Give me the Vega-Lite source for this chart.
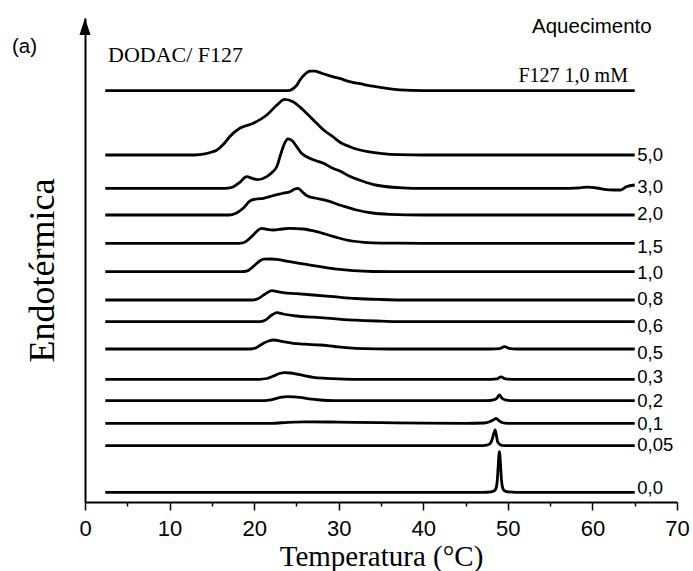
{
  "$schema": "https://vega.github.io/schema/vega-lite/v6.json",
  "autosize": {"type": "none"},
  "padding": {"left": 85, "top": 18, "right": 16, "bottom": 69},
  "width": 592,
  "height": 484,
  "background": "white",
  "config": {"view": {"stroke": null}},
  "datasets": {
    "curves": [
      {"s":"F127","t":2.4,"v":411.3},{"s":"F127","t":15,"v":411.3},{"s":"F127","t":24.0,"v":411.3},{"s":"F127","t":24.5,"v":412.8},{"s":"F127","t":25.0,"v":416.3},{"s":"F127","t":25.4,"v":421.8},{"s":"F127","t":26.0,"v":427.8},{"s":"F127","t":26.6,"v":430.8},{"s":"F127","t":27.2,"v":430.8},{"s":"F127","t":27.8,"v":429.3},{"s":"F127","t":28.5,"v":427.3},{"s":"F127","t":29.3,"v":425.3},{"s":"F127","t":30.2,"v":423.3},{"s":"F127","t":31.3,"v":420.3},{"s":"F127","t":32.5,"v":418.3},{"s":"F127","t":34,"v":415.8},{"s":"F127","t":35.5,"v":413.8},{"s":"F127","t":37.2,"v":412.1},{"s":"F127","t":40,"v":411.3},{"s":"F127","t":50,"v":411.3},{"s":"F127","t":65,"v":411.3},

      {"s":"5,0","t":2.4,"v":347},{"s":"5,0","t":10,"v":347},{"s":"5,0","t":13.0,"v":347},{"s":"5,0","t":14.0,"v":347.8},{"s":"5,0","t":15.0,"v":350},{"s":"5,0","t":15.6,"v":352},{"s":"5,0","t":16.4,"v":358},{"s":"5,0","t":17.1,"v":365.3},{"s":"5,0","t":18.3,"v":373.7},{"s":"5,0","t":19.9,"v":378.7},{"s":"5,0","t":21.5,"v":387},{"s":"5,0","t":22.7,"v":397},{"s":"5,0","t":23.6,"v":402.7},{"s":"5,0","t":24.6,"v":400.3},{"s":"5,0","t":25.8,"v":392},{"s":"5,0","t":27.4,"v":378.7},{"s":"5,0","t":28.3,"v":371.5},{"s":"5,0","t":29.3,"v":365.3},{"s":"5,0","t":30.2,"v":359.5},{"s":"5,0","t":31.3,"v":355.3},{"s":"5,0","t":32.5,"v":352},{"s":"5,0","t":34.9,"v":348.7},{"s":"5,0","t":37.2,"v":347.3},{"s":"5,0","t":40,"v":347},{"s":"5,0","t":50,"v":347},{"s":"5,0","t":65,"v":347},

      {"s":"3,0","t":2.4,"v":313.7},{"s":"3,0","t":10,"v":313.7},{"s":"3,0","t":16.5,"v":313.7},{"s":"3,0","t":17.3,"v":314.5},{"s":"3,0","t":18.3,"v":319.7},{"s":"3,0","t":19.1,"v":325.4},{"s":"3,0","t":19.8,"v":323.7},{"s":"3,0","t":20.4,"v":322.4},{"s":"3,0","t":21.5,"v":325.4},{"s":"3,0","t":22.2,"v":330.2},{"s":"3,0","t":22.7,"v":335.7},{"s":"3,0","t":23.1,"v":346.7},{"s":"3,0","t":23.6,"v":358.7},{"s":"3,0","t":24.0,"v":363.2},{"s":"3,0","t":24.5,"v":361.2},{"s":"3,0","t":25.0,"v":355.7},{"s":"3,0","t":25.6,"v":348.7},{"s":"3,0","t":26.2,"v":345.2},{"s":"3,0","t":27.0,"v":342.2},{"s":"3,0","t":28.2,"v":338.7},{"s":"3,0","t":29.3,"v":333.7},{"s":"3,0","t":30.2,"v":330.7},{"s":"3,0","t":31.3,"v":325.7},{"s":"3,0","t":32.5,"v":321.7},{"s":"3,0","t":34,"v":317.7},{"s":"3,0","t":35.5,"v":315.5},{"s":"3,0","t":37.5,"v":314.2},{"s":"3,0","t":40,"v":313.7},{"s":"3,0","t":50,"v":313.7},{"s":"3,0","t":56,"v":313.7},{"s":"3,0","t":58.5,"v":314.2},{"s":"3,0","t":59.5,"v":314.9},{"s":"3,0","t":60.5,"v":314.0},{"s":"3,0","t":62,"v":312.2},{"s":"3,0","t":63.3,"v":312.0},{"s":"3,0","t":64.0,"v":315.2},{"s":"3,0","t":65,"v":317.0},

      {"s":"2,0","t":2.4,"v":287},{"s":"2,0","t":10,"v":287},{"s":"2,0","t":17.0,"v":287},{"s":"2,0","t":17.8,"v":288.5},{"s":"2,0","t":18.7,"v":293.7},{"s":"2,0","t":19.5,"v":301},{"s":"2,0","t":20.3,"v":303},{"s":"2,0","t":21.1,"v":303.7},{"s":"2,0","t":22.3,"v":306.5},{"s":"2,0","t":23.3,"v":308.5},{"s":"2,0","t":24.3,"v":310.5},{"s":"2,0","t":24.8,"v":313},{"s":"2,0","t":25.2,"v":313.7},{"s":"2,0","t":25.7,"v":310},{"s":"2,0","t":26.3,"v":306},{"s":"2,0","t":27.2,"v":304},{"s":"2,0","t":28.6,"v":301.3},{"s":"2,0","t":30.3,"v":296.5},{"s":"2,0","t":32.1,"v":292},{"s":"2,0","t":34,"v":289},{"s":"2,0","t":36,"v":287.7},{"s":"2,0","t":40,"v":287},{"s":"2,0","t":65,"v":287},

      {"s":"1,5","t":2.4,"v":258.7},{"s":"1,5","t":10,"v":258.7},{"s":"1,5","t":18.2,"v":258.7},{"s":"1,5","t":18.8,"v":259.5},{"s":"1,5","t":19.9,"v":267},{"s":"1,5","t":20.5,"v":272.2},{"s":"1,5","t":20.9,"v":273.7},{"s":"1,5","t":21.5,"v":272.7},{"s":"1,5","t":22.3,"v":272},{"s":"1,5","t":23.3,"v":273},{"s":"1,5","t":24.2,"v":273.7},{"s":"1,5","t":25.8,"v":273},{"s":"1,5","t":27.4,"v":270.4},{"s":"1,5","t":29.4,"v":265.4},{"s":"1,5","t":30.9,"v":262},{"s":"1,5","t":33,"v":259.7},{"s":"1,5","t":35,"v":258.9},{"s":"1,5","t":40,"v":258.7},{"s":"1,5","t":65,"v":258.7},

      {"s":"1,0","t":2.4,"v":230.3},{"s":"1,0","t":10,"v":230.3},{"s":"1,0","t":18.5,"v":230.3},{"s":"1,0","t":19.2,"v":231.1},{"s":"1,0","t":20.1,"v":237},{"s":"1,0","t":20.7,"v":241.3},{"s":"1,0","t":21.1,"v":242.8},{"s":"1,0","t":22.0,"v":243},{"s":"1,0","t":22.7,"v":242.6},{"s":"1,0","t":24.2,"v":240.3},{"s":"1,0","t":26,"v":237.8},{"s":"1,0","t":27.8,"v":235.3},{"s":"1,0","t":29.8,"v":232.8},{"s":"1,0","t":31.7,"v":231.3},{"s":"1,0","t":34,"v":230.5},{"s":"1,0","t":40,"v":230.3},{"s":"1,0","t":65,"v":230.3},

      {"s":"0,8","t":2.4,"v":202},{"s":"0,8","t":10,"v":202},{"s":"0,8","t":19.8,"v":202},{"s":"0,8","t":20.5,"v":203.5},{"s":"0,8","t":21.3,"v":208},{"s":"0,8","t":22.1,"v":211.3},{"s":"0,8","t":22.8,"v":210.3},{"s":"0,8","t":23.4,"v":209.3},{"s":"0,8","t":25,"v":208.3},{"s":"0,8","t":27,"v":207},{"s":"0,8","t":29.4,"v":205.3},{"s":"0,8","t":32,"v":203.5},{"s":"0,8","t":35,"v":202.5},{"s":"0,8","t":38,"v":202},{"s":"0,8","t":65,"v":202},

      {"s":"0,6","t":2.4,"v":180.3},{"s":"0,6","t":10,"v":180.3},{"s":"0,6","t":20.6,"v":180.3},{"s":"0,6","t":21.3,"v":181.8},{"s":"0,6","t":22.1,"v":187},{"s":"0,6","t":22.7,"v":189.3},{"s":"0,6","t":23.4,"v":188},{"s":"0,6","t":25,"v":186},{"s":"0,6","t":27,"v":184.8},{"s":"0,6","t":29,"v":183.6},{"s":"0,6","t":32,"v":181.8},{"s":"0,6","t":35,"v":180.9},{"s":"0,6","t":38,"v":180.3},{"s":"0,6","t":65,"v":180.3},

      {"s":"0,5","t":2.4,"v":153},{"s":"0,5","t":10,"v":153},{"s":"0,5","t":19.6,"v":153},{"s":"0,5","t":20.3,"v":154.5},{"s":"0,5","t":21.1,"v":158.7},{"s":"0,5","t":21.7,"v":161},{"s":"0,5","t":22.3,"v":162},{"s":"0,5","t":23.4,"v":160.3},{"s":"0,5","t":24.6,"v":158.7},{"s":"0,5","t":26,"v":157.8},{"s":"0,5","t":27.8,"v":157},{"s":"0,5","t":29.5,"v":155.5},{"s":"0,5","t":30.9,"v":154.3},{"s":"0,5","t":33,"v":153.3},{"s":"0,5","t":36,"v":153},{"s":"0,5","t":48,"v":153},{"s":"0,5","t":49.0,"v":153.3},{"s":"0,5","t":49.6,"v":155.3},{"s":"0,5","t":50.3,"v":153.3},{"s":"0,5","t":51,"v":153},{"s":"0,5","t":65,"v":153},

      {"s":"0,3","t":2.4,"v":122.7},{"s":"0,3","t":10,"v":122.7},{"s":"0,3","t":20.6,"v":122.7},{"s":"0,3","t":21.5,"v":123.5},{"s":"0,3","t":22.3,"v":126},{"s":"0,3","t":23.0,"v":128.5},{"s":"0,3","t":23.6,"v":129.4},{"s":"0,3","t":24.3,"v":129},{"s":"0,3","t":25.0,"v":128},{"s":"0,3","t":26,"v":126.2},{"s":"0,3","t":27,"v":124.7},{"s":"0,3","t":28.5,"v":123.7},{"s":"0,3","t":30,"v":123.1},{"s":"0,3","t":32,"v":122.7},{"s":"0,3","t":48,"v":122.7},{"s":"0,3","t":48.7,"v":123.1},{"s":"0,3","t":49.2,"v":125.2},{"s":"0,3","t":49.7,"v":123.1},{"s":"0,3","t":50.5,"v":122.7},{"s":"0,3","t":65,"v":122.7},

      {"s":"0,2","t":2.4,"v":101.3},{"s":"0,2","t":10,"v":101.3},{"s":"0,2","t":21.2,"v":101.3},{"s":"0,2","t":22,"v":102.1},{"s":"0,2","t":23.1,"v":104.6},{"s":"0,2","t":24.0,"v":105.3},{"s":"0,2","t":25.4,"v":104.6},{"s":"0,2","t":26.5,"v":103.1},{"s":"0,2","t":27.8,"v":102},{"s":"0,2","t":29.5,"v":101.4},{"s":"0,2","t":31,"v":101.3},{"s":"0,2","t":47.5,"v":101.3},{"s":"0,2","t":48.3,"v":102.1},{"s":"0,2","t":48.7,"v":103.8},{"s":"0,2","t":49.0,"v":107},{"s":"0,2","t":49.3,"v":103.8},{"s":"0,2","t":49.8,"v":101.9},{"s":"0,2","t":50.5,"v":101.3},{"s":"0,2","t":65,"v":101.3},

      {"s":"0,1","t":2.4,"v":78.7},{"s":"0,1","t":10,"v":78.7},{"s":"0,1","t":22,"v":78.7},{"s":"0,1","t":24,"v":79.7},{"s":"0,1","t":26,"v":80.2},{"s":"0,1","t":30,"v":79.9},{"s":"0,1","t":35,"v":79.3},{"s":"0,1","t":40,"v":78.9},{"s":"0,1","t":45,"v":78.7},{"s":"0,1","t":47.2,"v":79},{"s":"0,1","t":47.9,"v":80.5},{"s":"0,1","t":48.4,"v":82.7},{"s":"0,1","t":48.6,"v":83.7},{"s":"0,1","t":48.9,"v":81.7},{"s":"0,1","t":49.3,"v":79.5},{"s":"0,1","t":50,"v":78.7},{"s":"0,1","t":65,"v":78.7},

      {"s":"0,05","t":2.4,"v":56.3},{"s":"0,05","t":10,"v":56.3},{"s":"0,05","t":40,"v":56.3},{"s":"0,05","t":46.5,"v":56.3},{"s":"0,05","t":47.5,"v":56.9},{"s":"0,05","t":47.9,"v":58.3},{"s":"0,05","t":48.15,"v":62.8},{"s":"0,05","t":48.4,"v":70.3},{"s":"0,05","t":48.5,"v":72},{"s":"0,05","t":48.65,"v":66.3},{"s":"0,05","t":48.8,"v":59.8},{"s":"0,05","t":49.1,"v":57.3},{"s":"0,05","t":49.6,"v":56.3},{"s":"0,05","t":65,"v":56.3},

      {"s":"0,0","t":2.4,"v":9.7},{"s":"0,0","t":40,"v":9.7},{"s":"0,0","t":47.0,"v":9.7},{"s":"0,0","t":48.0,"v":10.2},{"s":"0,0","t":48.4,"v":11.2},{"s":"0,0","t":48.6,"v":13.7},{"s":"0,0","t":48.75,"v":21.7},{"s":"0,0","t":48.85,"v":34.7},{"s":"0,0","t":48.95,"v":47.7},{"s":"0,0","t":49.0,"v":50.3},{"s":"0,0","t":49.05,"v":47.7},{"s":"0,0","t":49.15,"v":34.7},{"s":"0,0","t":49.25,"v":21.7},{"s":"0,0","t":49.4,"v":13.7},{"s":"0,0","t":49.6,"v":11.2},{"s":"0,0","t":50,"v":10.2},{"s":"0,0","t":51,"v":9.7},{"s":"0,0","t":65,"v":9.7}
    ],
    "labels": [
      {"label":"5,0","t":65.3,"v":347},
      {"label":"3,0","t":65.3,"v":315.3},
      {"label":"2,0","t":65.3,"v":288},
      {"label":"1,5","t":65.3,"v":254.7},
      {"label":"1,0","t":65.3,"v":229.3},
      {"label":"0,8","t":65.3,"v":202.7},
      {"label":"0,6","t":65.3,"v":176},
      {"label":"0,5","t":65.3,"v":148.7},
      {"label":"0,3","t":65.3,"v":125.3},
      {"label":"0,2","t":65.3,"v":101},
      {"label":"0,1","t":65.3,"v":78},
      {"label":"0,05","t":65.3,"v":57},
      {"label":"0,0","t":65.3,"v":13.7}
    ],
    "serifRight": [{"label":"F127 1,0 mM","t":64.2,"v":420}],
    "serifLeft": [{"label":"DODAC/ F127","t":2.72,"v":440}],
    "sansLeft": [
      {"label":"Aquecimento","t":52.86,"v":469},
      {"label":"(a)","t":-8.63,"v":449}
    ],
    "arrow": [{"t":0,"v":475.5}]
  },
  "encoding": {
    "x": {
      "field": "t", "type": "quantitative",
      "scale": {"domain": [0, 70], "nice": false, "zero": false},
      "axis": {
        "title": "Temperatura (°C)",
        "values": [0,5,10,15,20,25,30,35,40,45,50,55,60,65,70],
        "labelExpr": "datum.value % 10 === 0 ? datum.label : ''",
        "labelOverlap": false,
        "labelFlush": false,
        "tickSize": {"condition": {"test": "datum.value % 10 !== 0", "value": 4}, "value": 8},
        "tickColor": "black", "tickWidth": 1.5,
        "domainColor": "black", "domainWidth": 2,
        "grid": false,
        "labelFont": "Liberation Sans", "labelFontSize": 22, "labelColor": "black", "labelPadding": 8,
        "titleFont": "Liberation Serif", "titleFontSize": 29, "titleFontWeight": "normal", "titleColor": "black",
        "titleBaseline": "alphabetic", "titleY": 63
      }
    },
    "y": {
      "field": "v", "type": "quantitative",
      "scale": {"domain": [0, 484], "nice": false, "zero": false},
      "axis": {
        "title": "Endotérmica",
        "labels": false, "ticks": false, "grid": false,
        "domainColor": "black", "domainWidth": 2,
        "titleFont": "Liberation Serif", "titleFontSize": 36, "titleFontWeight": "normal", "titleColor": "black",
        "titleAngle": -90, "titleAlign": "center", "titleBaseline": "alphabetic",
        "titleX": -32, "titleY": 252
      }
    }
  },
  "layer": [
    {
      "data": {"name": "curves"},
      "mark": {"type": "line", "color": "black", "strokeWidth": 2.8, "interpolate": "monotone"},
      "encoding": {"detail": {"field": "s"}}
    },
    {
      "data": {"name": "labels"},
      "mark": {"type": "text", "font": "Liberation Sans", "fontSize": 18.5, "align": "left", "baseline": "middle", "color": "black"},
      "encoding": {"text": {"field": "label"}}
    },
    {
      "data": {"name": "serifRight"},
      "mark": {"type": "text", "font": "Liberation Serif", "fontSize": 20, "align": "right", "baseline": "alphabetic", "color": "black"},
      "encoding": {"text": {"field": "label"}}
    },
    {
      "data": {"name": "serifLeft"},
      "mark": {"type": "text", "font": "Liberation Serif", "fontSize": 22, "align": "left", "baseline": "alphabetic", "color": "black"},
      "encoding": {"text": {"field": "label"}}
    },
    {
      "data": {"name": "sansLeft"},
      "mark": {"type": "text", "font": "Liberation Sans", "fontSize": 20.5, "align": "left", "baseline": "alphabetic", "color": "black"},
      "encoding": {"text": {"field": "label"}}
    },
    {
      "data": {"name": "arrow"},
      "mark": {"type": "point", "shape": "M0,-1L0.65,1L-0.65,1Z", "size": 289, "filled": true, "color": "black", "opacity": 1, "strokeWidth": 0}
    }
  ]
}
